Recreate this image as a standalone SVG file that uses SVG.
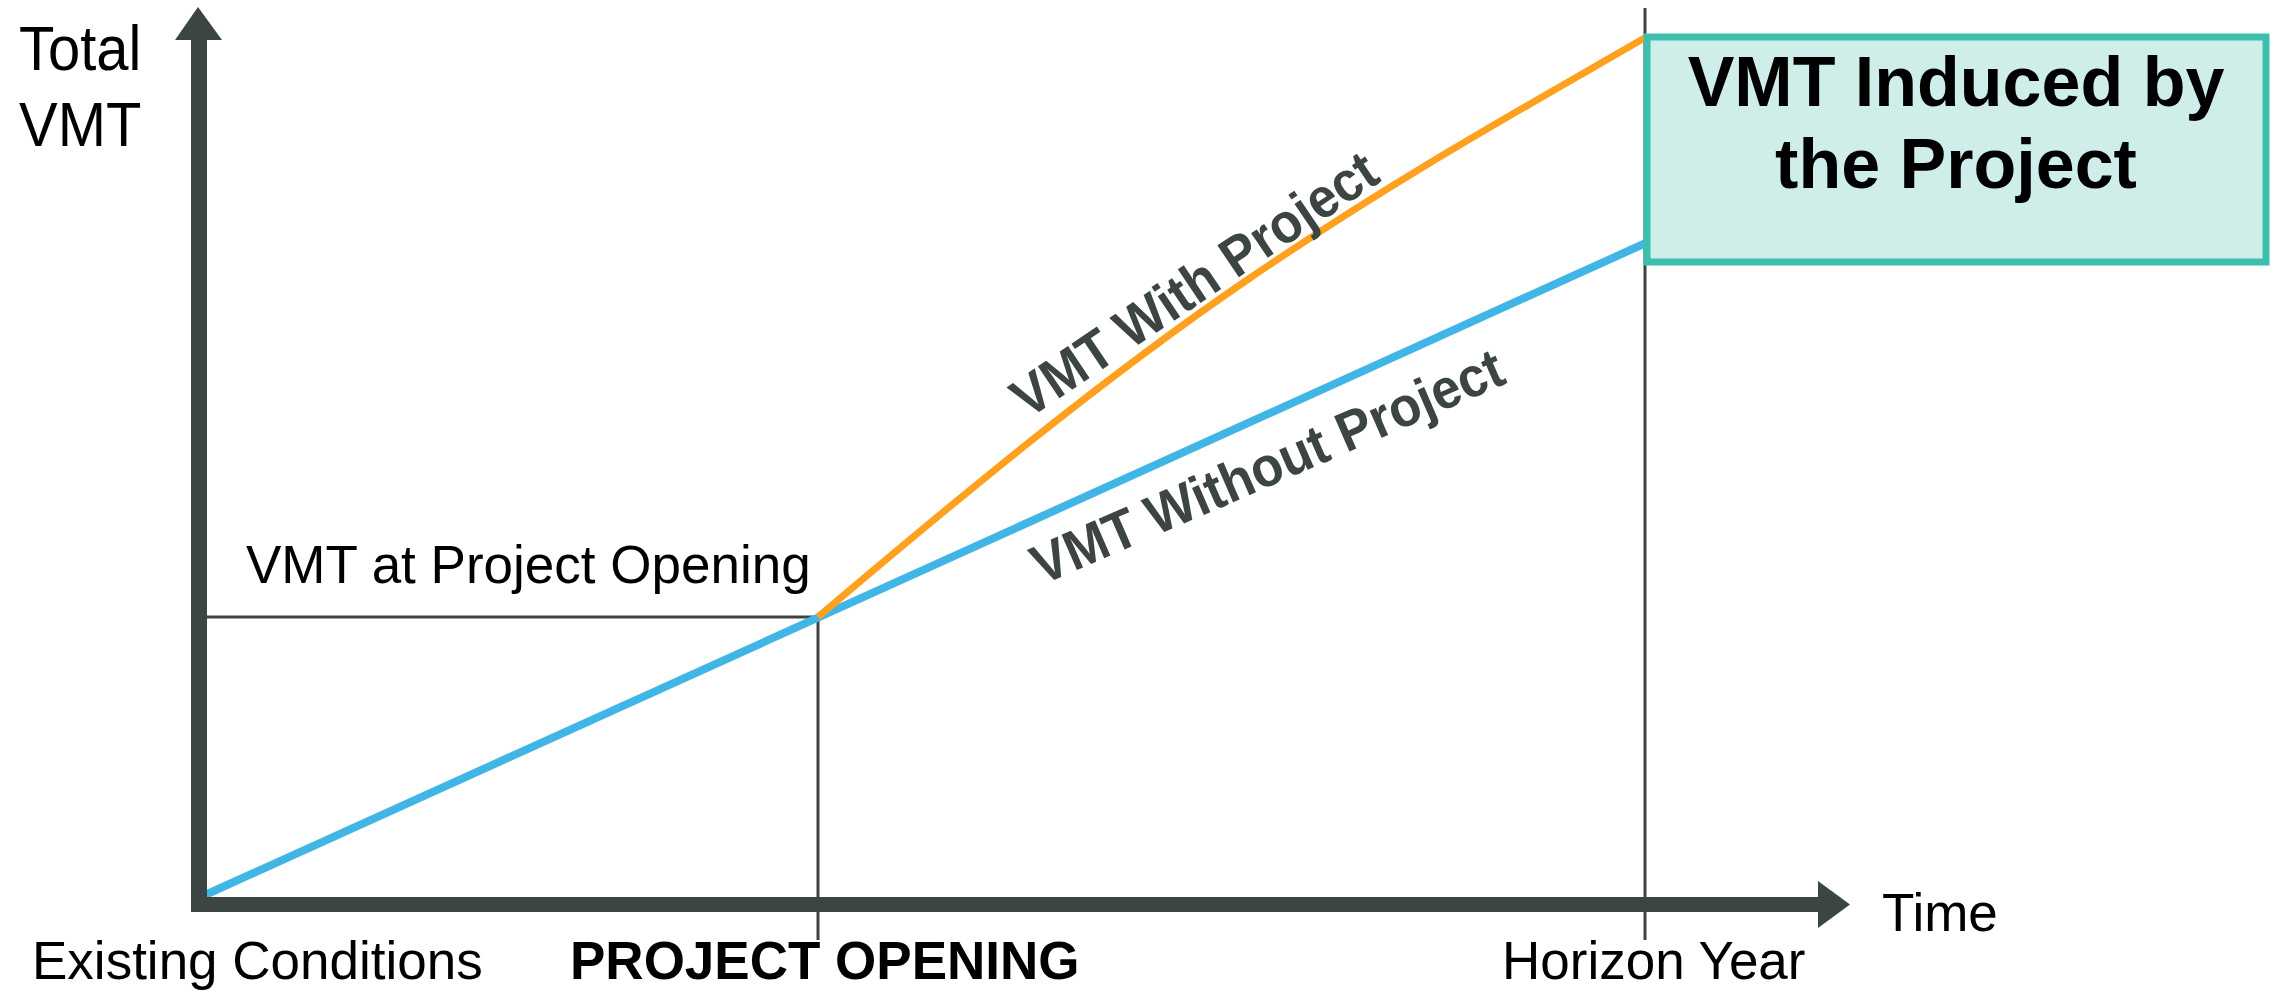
<svg xmlns="http://www.w3.org/2000/svg" width="2275" height="993" viewBox="0 0 2275 993">
<style>
.lbl{font-family:"Liberation Sans",Arial,sans-serif;font-size:53px;fill:#000}
.big{font-family:"Liberation Sans",Arial,sans-serif;font-size:63px;fill:#000}
.bold{font-family:"Liberation Sans",Arial,sans-serif;font-weight:bold;fill:#000}
.rot{font-family:"Liberation Sans",Arial,sans-serif;font-weight:bold;font-size:56px;fill:#3d4543}
.axis{fill:#3d4543}
.guide{stroke:#3d4543;stroke-width:3;fill:none}
</style>
<rect width="2275" height="993" fill="#fff"/>
<g id="guides">
<polyline class="guide" points="199,617 818,617 818,940"/>
<line class="guide" x1="1645" y1="8" x2="1645" y2="940"/>
</g>
<g id="connectors">
<line x1="205" y1="895" x2="1648" y2="242" stroke="#41b6e6" stroke-width="8"/>
<path d="M818,617 C950,505 1100,380 1250,278 S1520,110 1648,36" stroke="#ffa01e" stroke-width="7" fill="none"/>
</g>
<g id="y-axis">
<rect class="axis" x="191" y="38" width="16" height="874"/>
<polygon class="axis" points="175,40 198,7 222,40"/>
</g>
<g id="x-axis">
<rect class="axis" x="191" y="897" width="1629" height="15"/>
<polygon class="axis" points="1818,881 1850,904.5 1818,928"/>
</g>
<g id="induced-box">
<rect x="1647" y="37" width="619" height="225" fill="#d0eee9" stroke="#3dbfad" stroke-width="7"/>
<text class="bold" font-size="70" x="1956" y="106" text-anchor="middle">VMT Induced by</text>
<text class="bold" font-size="70" x="1956" y="188" text-anchor="middle">the Project</text>
</g>
<g id="labels">
<text class="big" transform="translate(19,70) scale(0.92,1)">Total</text>
<text class="big" transform="translate(19,146) scale(0.92,1)">VMT</text>
<text class="lbl" x="1882" y="931">Time</text>
<text class="lbl" x="32" y="979">Existing Conditions</text>
<text class="bold" font-size="53" x="570" y="979">PROJECT OPENING</text>
<text class="lbl" x="1502" y="979">Horizon Year</text>
<text class="lbl" x="246" y="583">VMT at Project Opening</text>
<text class="rot" text-anchor="middle" transform="translate(1205,300) rotate(-34) scale(0.93,1)">VMT With Project</text>
<text class="rot" text-anchor="middle" transform="translate(1275,484) rotate(-23.5) scale(0.93,1)">VMT Without Project</text>
</g>
</svg>
